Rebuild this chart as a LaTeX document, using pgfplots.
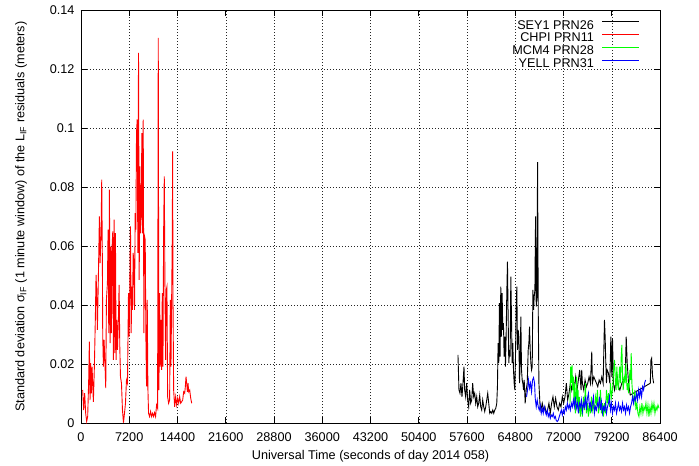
\documentclass[border=0pt]{standalone}
\usepackage{pgfplots}
\pgfplotsset{compat=1.18}
\usepackage{pgfplotstable}
\usepackage{fontspec}
\setmainfont{Liberation Sans}

% SEY1 PRN26
\pgfplotstableread{
t s
56252 0.0231
56401 0.0112
56551 0.0101
56701 0.0135
56851 0.0089
57000 0.0135
57151 0.0191
57250 0.0112
57400 0.0089
57549 0.0135
57699 0.0078
57849 0.0055
57999 0.0112
58148 0.0067
58298 0.0078
58448 0.0135
58598 0.0089
58747 0.0101
58897 0.0067
59047 0.0089
59197 0.0055
59346 0.0067
59496 0.0095
59646 0.0055
59795 0.0044
59945 0.0078
60095 0.0055
60245 0.0039
60394 0.0055
60544 0.0078
60694 0.0101
60844 0.0067
60993 0.0033
61143 0.0039
61293 0.0033
61442 0.0044
61592 0.0033
61742 0.0044
61892 0.0050
62041 0.0067
62141 0.0123
62241 0.0271
62341 0.0203
62441 0.0407
62540 0.0225
62640 0.0463
62740 0.0293
62840 0.0441
62940 0.0316
63040 0.0339
63139 0.0225
63239 0.0293
63339 0.0191
63439 0.0293
63539 0.0441
63638 0.0548
63738 0.0361
63838 0.0203
63938 0.0248
64038 0.0225
64138 0.0497
64237 0.0361
64337 0.0203
64437 0.0271
64537 0.0180
64637 0.0135
64737 0.0112
64836 0.0225
64936 0.0395
65036 0.0463
65136 0.0248
65236 0.0316
65335 0.0293
65435 0.0135
65535 0.0203
65635 0.0361
65735 0.0180
65835 0.0146
65934 0.0135
66034 0.0112
66134 0.0146
66284 0.0067
66433 0.0112
66583 0.0135
66733 0.0248
66833 0.0271
66932 0.0327
67032 0.0248
67132 0.0203
67232 0.0180
67332 0.0191
67432 0.0452
67531 0.0384
67631 0.0429
67731 0.0452
67831 0.0701
67931 0.0395
68031 0.0429
68130 0.0885
68230 0.0384
68330 0.0135
68480 0.0067
68629 0.0044
68829 0.0067
69029 0.0044
69228 0.0055
69428 0.0033
69628 0.0044
69827 0.0067
70027 0.0033
70227 0.0067
70426 0.0089
70626 0.0055
70826 0.0084
71025 0.0055
71225 0.0044
71424 0.0067
71624 0.0055
71824 0.0089
72023 0.0067
72223 0.0089
72423 0.0135
72622 0.0078
72822 0.0101
73022 0.0135
73221 0.0112
73421 0.0146
73621 0.0123
73820 0.0157
74020 0.0112
74220 0.0146
74419 0.0180
74619 0.0112
74719 0.0180
74819 0.0135
75018 0.0112
75218 0.0146
75418 0.0123
75617 0.0135
75817 0.0157
76017 0.0135
76216 0.0242
76316 0.0135
76516 0.0157
76715 0.0146
76915 0.0135
77115 0.0123
77314 0.0146
77514 0.0135
77714 0.0157
77913 0.0135
78113 0.0350
78213 0.0293
78313 0.0203
78412 0.0135
78512 0.0180
78712 0.0169
78911 0.0135
79061 0.0293
79211 0.0157
79311 0.0288
79460 0.0135
79610 0.0112
79810 0.0135
80009 0.0157
80209 0.0123
80409 0.0112
80708 0.0135
80958 0.0146
81207 0.0157
81357 0.0293
81506 0.0203
81706 0.0135
81956 0.0095
84950 0.0135
85050 0.0214
85150 0.0220
85299 0.0157
85449 0.0135
}\sey

% CHPI PRN11
\pgfplotstableread{
t s
249 0.0112
399 0.0044
549 0.0101
698 0.0033
848 0.0005
998 0.0022
1148 0.0146
1247 0.0276
1347 0.0078
1447 0.0203
1547 0.0101
1647 0.0191
1747 0.0135
1846 0.0072
1996 0.0191
2146 0.0361
2246 0.0503
2346 0.0441
2445 0.0316
2595 0.0497
2745 0.0701
2845 0.0543
2994 0.0644
3094 0.0826
3194 0.0531
3244 0.0293
3344 0.0191
3444 0.0282
3593 0.0191
3693 0.0118
3793 0.0418
3943 0.0475
4042 0.0656
4143 0.0305
4242 0.0792
4342 0.0271
4442 0.0599
4542 0.0305
4641 0.0599
4741 0.0650
4841 0.0214
4941 0.0690
5041 0.0237
5140 0.0644
5240 0.0214
5340 0.0350
5440 0.0248
5590 0.0361
5689 0.0469
5789 0.0259
5889 0.0157
6039 0.0135
6188 0.0044
6338 0.0001
6488 0.0033
6638 0.0067
6787 0.0146
6937 0.0135
7087 0.0441
7187 0.0293
7287 0.0475
7386 0.0667
7486 0.0305
7586 0.0463
7686 0.0384
7786 0.0577
7886 0.0543
7986 0.0384
8085 0.0712
8185 0.0656
8285 0.0984
8385 0.1030
8484 0.0577
8584 0.1256
8684 0.0486
8784 0.0871
8884 0.0644
8983 0.0712
9083 0.0984
9183 0.0644
9283 0.1030
9383 0.0305
9483 0.0633
9582 0.0622
9682 0.0293
9782 0.0124
9882 0.0418
9982 0.0118
10081 0.0033
10231 0.0022
10381 0.0039
10531 0.0022
10681 0.0033
10830 0.0022
10980 0.0035
11130 0.0022
11280 0.0061
11430 0.0050
11479 0.0644
11529 0.1307
11579 0.0644
11629 0.0112
11729 0.0441
11829 0.0191
11928 0.0350
12028 0.0180
12128 0.0441
12228 0.0191
12328 0.0644
12428 0.0837
12527 0.0463
12627 0.0214
12727 0.0452
12827 0.0463
12927 0.0089
13076 0.0067
13226 0.0078
13326 0.0418
13426 0.0191
13526 0.0418
13626 0.0644
13675 0.0922
13725 0.0429
13825 0.0112
13975 0.0055
14125 0.0089
14274 0.0061
14424 0.0084
14574 0.0067
14724 0.0089
14874 0.0067
15023 0.0072
15173 0.0078
15323 0.0106
15473 0.0101
15573 0.0124
15672 0.0157
15772 0.0135
15872 0.0106
15972 0.0135
16072 0.0106
16222 0.0112
16371 0.0084
16521 0.0067
}\chpi

% MCM4 PRN28
\pgfplotstableread{
t s
72972 0.0067
73071 0.0191
73171 0.0135
73271 0.0197
73371 0.0112
73471 0.0157
73571 0.0067
73670 0.0135
73770 0.0033
73870 0.0089
73970 0.0157
74070 0.0055
74169 0.0112
74269 0.0033
74369 0.0089
74519 0.0022
74669 0.0067
74818 0.0022
74968 0.0089
75118 0.0044
75268 0.0135
75417 0.0033
75567 0.0067
75717 0.0022
75866 0.0067
76016 0.0033
76166 0.0089
76316 0.0044
76465 0.0067
76615 0.0033
76765 0.0089
76915 0.0067
77064 0.0112
77214 0.0033
77364 0.0055
77513 0.0112
77663 0.0033
77813 0.0067
77963 0.0022
78112 0.0067
78262 0.0033
78412 0.0112
78562 0.0067
78711 0.0101
78861 0.0055
79011 0.0135
79160 0.0089
79310 0.0112
79460 0.0169
79610 0.0214
79759 0.0135
79859 0.0112
79959 0.0191
80059 0.0135
80209 0.0112
80358 0.0191
80508 0.0135
80608 0.0225
80708 0.0265
80808 0.0157
80907 0.0112
81057 0.0157
81207 0.0135
81307 0.0203
81406 0.0146
81506 0.0112
81606 0.0135
81706 0.0101
81806 0.0135
81905 0.0180
82005 0.0146
82105 0.0237
82205 0.0135
82354 0.0089
82504 0.0067
82654 0.0112
82804 0.0044
82954 0.0067
83103 0.0033
83253 0.0022
83403 0.0055
83553 0.0033
83702 0.0067
83852 0.0033
84002 0.0055
84151 0.0044
84301 0.0067
84451 0.0033
84601 0.0061
84750 0.0022
84900 0.0055
85050 0.0033
85200 0.0067
85349 0.0044
85499 0.0067
85649 0.0033
85799 0.0055
85948 0.0044
86098 0.0061
86248 0.0050
}\mcm

% YELL PRN31
\pgfplotstableread{
t s
66483 0.0089
66633 0.0112
66783 0.0146
66933 0.0118
67082 0.0135
67232 0.0106
67382 0.0146
67531 0.0154
67681 0.0135
67781 0.0084
67931 0.0055
68080 0.0078
68230 0.0055
68380 0.0044
68530 0.0061
68679 0.0033
68829 0.0050
68979 0.0033
69129 0.0055
69278 0.0039
69428 0.0027
69578 0.0044
69728 0.0022
69877 0.0033
70027 0.0016
70177 0.0027
70326 0.0022
70476 0.0033
70626 0.0016
70776 0.0022
70925 0.0008
71075 0.0005
71225 0.0010
71375 0.0022
71524 0.0033
71674 0.0044
71824 0.0027
71973 0.0044
72123 0.0033
72273 0.0055
72423 0.0044
72572 0.0067
72722 0.0050
72872 0.0061
73022 0.0044
73171 0.0067
73321 0.0055
73471 0.0078
73620 0.0055
73770 0.0089
73920 0.0050
74070 0.0067
74219 0.0033
74369 0.0067
74519 0.0055
74669 0.0078
74818 0.0039
74968 0.0067
75118 0.0055
75268 0.0089
75417 0.0044
75567 0.0084
75717 0.0101
75866 0.0055
76016 0.0067
76166 0.0044
76316 0.0067
76465 0.0089
76615 0.0033
76765 0.0055
76915 0.0044
77064 0.0067
77214 0.0055
77364 0.0089
77513 0.0044
77663 0.0072
77813 0.0033
77963 0.0055
78112 0.0044
78262 0.0067
78412 0.0033
78562 0.0055
78711 0.0067
78861 0.0089
79011 0.0044
79160 0.0067
79310 0.0033
79460 0.0055
79610 0.0044
79759 0.0067
79909 0.0033
80059 0.0050
80209 0.0067
80358 0.0044
80508 0.0055
80658 0.0039
80808 0.0067
80957 0.0044
81107 0.0055
81257 0.0033
81406 0.0061
81556 0.0044
81706 0.0055
81856 0.0033
82005 0.0055
82155 0.0067
82305 0.0089
82455 0.0067
82604 0.0089
82754 0.0078
82904 0.0101
83053 0.0078
83203 0.0112
83353 0.0089
83503 0.0112
83652 0.0089
83802 0.0123
83952 0.0112
84102 0.0135
84251 0.0146
}\yell

\begin{document}
\begin{tikzpicture}
\path[use as bounding box] (-81bp,-43bp) rectangle (618bp,423bp);
\begin{axis}[
    at={(0,0)}, anchor=south west,
    scale only axis,
    width=579bp, height=412.5bp,
    xmin=0, xmax=86400,
    ymin=0, ymax=0.14,
    scaled x ticks=false, scaled y ticks=false,
    xtick={0,7200,14400,21600,28800,36000,43200,50400,57600,64800,72000,79200,86400},
    xticklabels={0,7200,14400,21600,28800,36000,43200,50400,57600,64800,72000,79200,86400},
    ytick={0,0.02,0.04,0.06,0.08,0.1,0.12,0.14},
    yticklabels={0,0.02,0.04,0.06,0.08,0.1,0.12,0.14},
    grid=major,
    grid style={black!85, dash pattern=on 0.8bp off 2.2bp, line width=0.5bp},
    tick align=inside,
    major tick length=6bp,
    tick style={black, line width=0.7bp},
    axis line style={line width=0.9bp},
    every tick label/.append style={font=\fontsize{12.7}{15}\selectfont},
    xticklabel style={anchor=base, yshift=-18bp},
    yticklabel style={xshift=-3bp},
    xlabel={Universal Time (seconds of day 2014 058)},
    ylabel={Standard deviation σ\textsubscript{IF} (1 minute window) of the L\textsubscript{IF} residuals (meters)},
    every axis x label/.style={at={(axis description cs:0.5,-0.08)}, anchor=center,
        font=\fontsize{12.7}{15}\selectfont},
    every axis y label/.style={at={(axis description cs:-0.1036,0.5)}, anchor=center, rotate=90,
        font=\fontsize{12.7}{15}\selectfont},
    legend plot pos=right,
    legend cell align=right,
    legend image code/.code={\draw[#1] (0bp,4.2bp) -- (37bp,4.2bp);},
    legend style={at={(rel axis cs:1,1)}, anchor=north east, xshift=-17bp, yshift=-7bp,
        draw=none, fill=none, column sep=8bp,
        font=\fontsize{12.7}{15}\selectfont,
        nodes={inner sep=0pt, text height=9.5bp, text depth=3.3bp}},
]
\addplot[black, line width=0.9bp] table {\sey};
\addlegendentry{SEY1 PRN26}
\addplot[red, line width=0.9bp] table {\chpi};
\addlegendentry{CHPI PRN11}
\addplot[green, line width=0.9bp] table {\mcm};
\addlegendentry{MCM4 PRN28}
\addplot[blue, line width=0.9bp] table {\yell};
\addlegendentry{YELL PRN31}
\end{axis}
\end{tikzpicture}
\end{document}
